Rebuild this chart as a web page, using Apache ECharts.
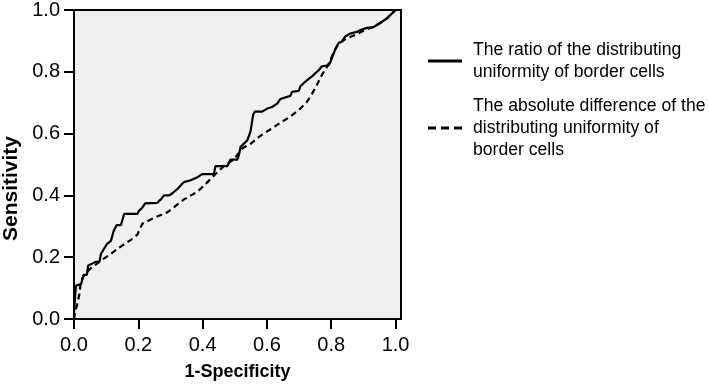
<!DOCTYPE html>
<html>
<head>
<meta charset="utf-8">
<script src="https://cdn.jsdelivr.net/npm/echarts@6/dist/echarts.min.js"></script>
<style>html,body{margin:0;padding:0;background:#fff}#c{width:709px;height:386px}</style>
</head>
<body>
<div id="c"></div>
<script>
var axisTicks = [0, 0.2, 0.4, 0.6, 0.8, 1.0];
var xTitle = '1-Specificity';
var yTitle = 'Sensitivity';
var nameRatio = 'The ratio of the distributing\nuniformity of border cells';
var nameAbs = 'The absolute difference of the\ndistributing uniformity of\nborder cells';

var ratioFpr = [0, 0, 0.006, 0.006, 0.022, 0.030, 0.040, 0.044, 0.058, 0.068, 0.079, 0.084, 0.102, 0.115, 0.123, 0.133, 0.146, 0.156, 0.197, 0.202, 0.213, 0.221, 0.259, 0.270, 0.280, 0.296, 0.306, 0.321, 0.342, 0.363, 0.384, 0.399, 0.435, 0.440, 0.477, 0.487, 0.508, 0.513, 0.518, 0.539, 0.549, 0.554, 0.557, 0.562, 0.585, 0.601, 0.616, 0.632, 0.642, 0.673, 0.678, 0.699, 0.704, 0.714, 0.724, 0.740, 0.750, 0.761, 0.771, 0.792, 0.797, 0.807, 0.812, 0.823, 0.833, 0.843, 0.859, 0.880, 0.890, 0.911, 0.932, 0.952, 0.973, 1.0];
var ratioTpr = [0, 0.020, 0.020, 0.108, 0.113, 0.143, 0.143, 0.173, 0.180, 0.185, 0.185, 0.211, 0.242, 0.253, 0.284, 0.304, 0.304, 0.340, 0.340, 0.350, 0.361, 0.374, 0.376, 0.387, 0.400, 0.400, 0.407, 0.420, 0.443, 0.449, 0.459, 0.469, 0.469, 0.495, 0.495, 0.516, 0.516, 0.531, 0.557, 0.578, 0.607, 0.640, 0.660, 0.671, 0.671, 0.681, 0.686, 0.697, 0.712, 0.722, 0.735, 0.738, 0.753, 0.763, 0.772, 0.785, 0.795, 0.805, 0.818, 0.821, 0.831, 0.857, 0.872, 0.893, 0.898, 0.914, 0.924, 0.929, 0.935, 0.942, 0.945, 0.958, 0.973, 1.0];

var absFpr = [0, 0.003, 0.011, 0.017, 0.020, 0.027, 0.037, 0.053, 0.073, 0.094, 0.115, 0.135, 0.156, 0.177, 0.197, 0.213, 0.233, 0.259, 0.290, 0.321, 0.342, 0.384, 0.415, 0.440, 0.466, 0.497, 0.523, 0.549, 0.580, 0.611, 0.642, 0.673, 0.704, 0.724, 0.740, 0.756, 0.771, 0.787, 0.797, 0.807, 0.818, 0.833, 0.849, 0.869, 0.890, 0.911, 0.932, 0.952, 0.973, 1.0];
var absTpr = [0, 0.020, 0.051, 0.082, 0.110, 0.134, 0.149, 0.165, 0.180, 0.196, 0.211, 0.227, 0.242, 0.256, 0.273, 0.309, 0.319, 0.332, 0.345, 0.370, 0.387, 0.412, 0.443, 0.469, 0.495, 0.516, 0.552, 0.567, 0.593, 0.614, 0.635, 0.655, 0.681, 0.702, 0.728, 0.759, 0.790, 0.816, 0.836, 0.862, 0.883, 0.898, 0.909, 0.917, 0.927, 0.938, 0.945, 0.958, 0.973, 1.0];

function pairs(xs, ys) { return xs.map(function (x, i) { return [x, ys[i]]; }); }

var font = "'Liberation Sans', Arial, Helvetica, sans-serif";

var chart = echarts.init(document.getElementById('c'), null, { renderer: 'canvas' });
chart.setOption({
  animation: false,
  backgroundColor: '#ffffff',
  grid: { left: 73, right: 308, top: 1, bottom: 63, show: true, backgroundColor: '#f0f0f0', borderColor: '#000', borderWidth: 2 },
  legend: {
    orient: 'vertical', left: 428, top: 39, padding: 0, itemWidth: 34, itemHeight: 14, itemGap: 12,
    selectedMode: false,
    textStyle: { fontFamily: font, fontSize: 17.6, color: '#000', lineHeight: 22, padding: [0, 0, 0, 6] },
    data: [
      { name: nameRatio, icon: 'path://M0,0L34,0L34,3L0,3Z', itemStyle: { color: '#000' } },
      { name: nameAbs, icon: 'path://M0,0L8,0L8,3L0,3ZM13,0L21,0L21,3L13,3ZM26,0L34,0L34,3L26,3Z', itemStyle: { color: '#000' } }
    ]
  },
  xAxis: {
    type: 'value', min: 0, max: 1.017,
    name: xTitle, nameLocation: 'middle', nameGap: 44,
    nameTextStyle: { fontFamily: font, fontWeight: 'bold', fontSize: 18, color: '#000' },
    axisLine: { show: true, onZero: false, lineStyle: { color: '#000', width: 2 } },
    axisTick: { show: true, length: 10, lineStyle: { color: '#000', width: 2 }, customValues: axisTicks },
    axisLabel: { fontFamily: font, fontSize: 20, color: '#000', margin: 16, customValues: axisTicks, formatter: function (v) { return v.toFixed(1); } },
    splitLine: { show: false }
  },
  yAxis: {
    type: 'value', min: 0, max: 1.0,
    name: yTitle, nameLocation: 'middle', nameGap: 52, nameRotate: 90,
    nameTextStyle: { fontFamily: font, fontWeight: 'bold', fontSize: 21, color: '#000', padding: [0, 48, 0, 0] },
    axisLine: { show: true, onZero: false, lineStyle: { color: '#000', width: 2 } },
    axisTick: { show: true, length: 10, lineStyle: { color: '#000', width: 2 }, customValues: axisTicks },
    axisLabel: { fontFamily: font, fontSize: 20, color: '#000', margin: 14, customValues: axisTicks, formatter: function (v) { return v.toFixed(1); } },
    splitLine: { show: false }
  },
  series: [
    { name: nameRatio, type: 'line', data: pairs(ratioFpr, ratioTpr), showSymbol: false, symbol: 'none',
      lineStyle: { color: '#000', width: 2.2 }, itemStyle: { color: '#000' } },
    { name: nameAbs, type: 'line', data: pairs(absFpr, absTpr), showSymbol: false, symbol: 'none',
      lineStyle: { color: '#000', width: 2.2, type: [6, 4] }, itemStyle: { color: '#000' } }
  ]
});
</script>
</body>
</html>
